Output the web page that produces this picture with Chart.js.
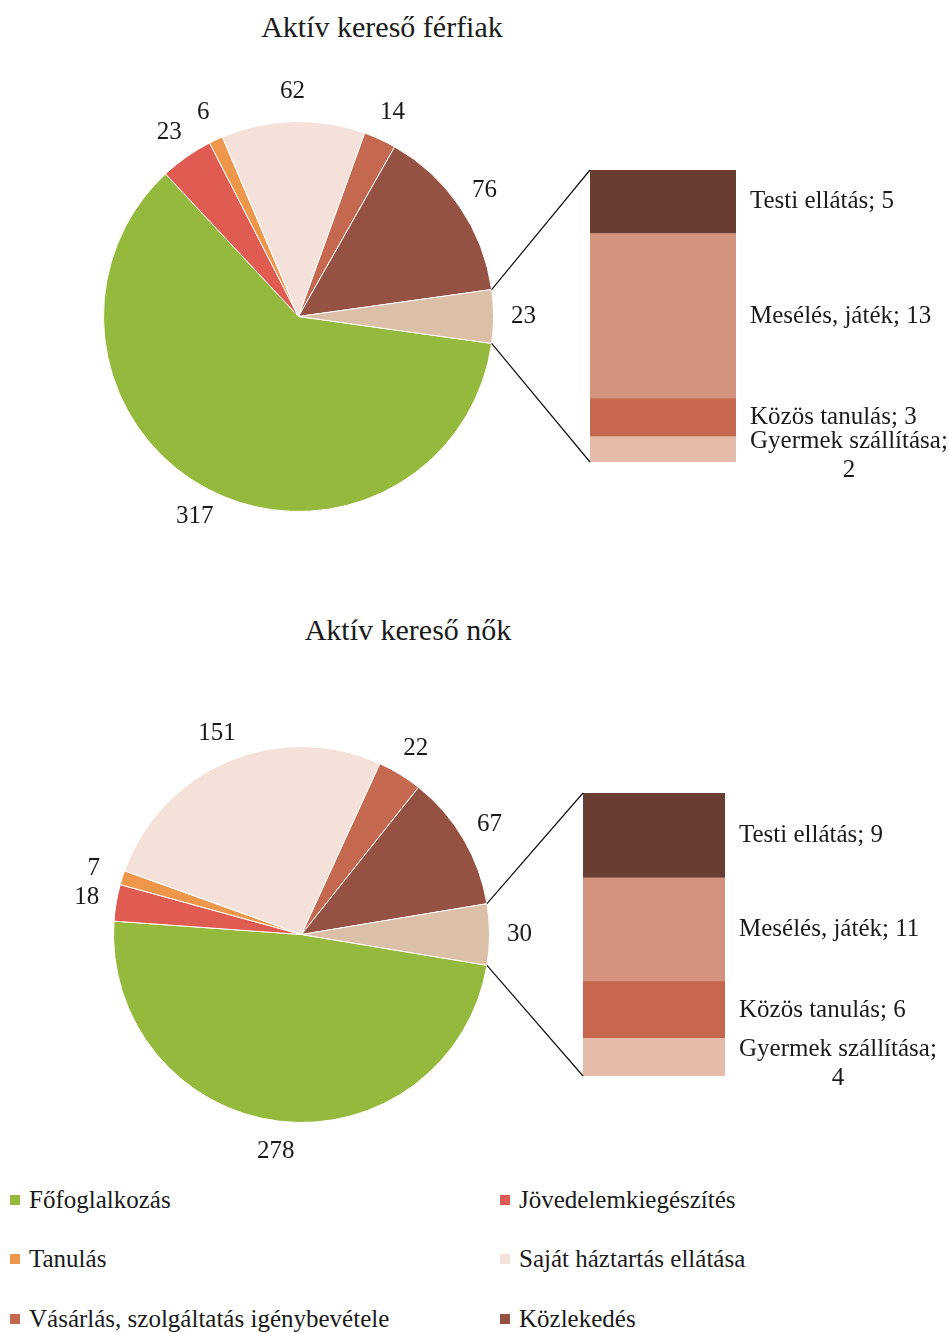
<!doctype html>
<html lang="hu">
  <head>
    <meta charset="UTF-8" />
    <title>Aktív keresők időfelhasználása</title>
    <script src="https://cdn.jsdelivr.net/npm/chart.js"></script>
    <style>
      body {
        margin: 0;
        background: #fff;
        font-family: "Liberation Serif", serif;
        color: #1a1a1a;
        width: 948px;
        height: 1333px;
        position: relative;
        overflow: hidden;
      }
      canvas {
        position: absolute;
      }
      .title {
        position: absolute;
        width: 400px;
        text-align: center;
        font-size: 30px;
        line-height: 36px;
      }
      #legend {
        position: absolute;
        left: 0;
        top: 1170px;
        width: 948px;
        display: grid;
        grid-template-columns: 490px 458px;
      }
      .item {
        height: 59.5px;
        display: flex;
        align-items: center;
        font-size: 25px;
        padding-left: 10px;
      }
      .box {
        width: 10px;
        height: 10px;
        margin-right: 9px;
      }
    </style>
  </head>

  <body>
    <div class="title" style="left: 182px; top: 9px">Aktív kereső férfiak</div>
    <canvas id="pieMen"></canvas>
    <canvas id="barMen"></canvas>

    <div class="title" style="left: 208px; top: 612px">Aktív kereső nők</div>
    <canvas id="pieWomen"></canvas>
    <canvas id="barWomen"></canvas>

    <div id="legend"></div>

    <script>
      // pie categories (last one is split into the bar)
      const categories = [
        "Főfoglalkozás",
        "Jövedelemkiegészítés",
        "Tanulás",
        "Saját háztartás ellátása",
        "Vásárlás, szolgáltatás igénybevétele",
        "Közlekedés",
        "Gyermekkel kapcsolatos tevékenység",
      ];
      const pieColors = ["#95b93c", "#e05c52", "#ee964a", "#f4e2da", "#c46850", "#955242", "#dbbfa7"];
      const menValues = [317, 23, 6, 62, 14, 76, 23];
      const womenValues = [278, 18, 7, 151, 22, 67, 30];

      // bar categories, bottom to top
      const childCategories = ["Gyermek szállítása", "Közös tanulás", "Mesélés, játék", "Testi ellátás"];
      const childColors = ["#e5bba9", "#c5684f", "#d4937e", "#6a3d33"];
      const menChild = [2, 3, 13, 5];
      const womenChild = [4, 6, 11, 9];

      const legendCount = 6;
      const FONT = "25px 'Liberation Serif'";
      const TEXT = "#1a1a1a";

      Chart.defaults.font.family = "'Liberation Serif', serif";

      const pieLabels = {
        id: "pieLabels",
        afterDatasetsDraw(chart) {
          const ctx = chart.ctx;
          const values = chart.data.datasets[0].data;
          ctx.save();
          ctx.font = FONT;
          ctx.fillStyle = TEXT;
          ctx.textAlign = "center";
          ctx.textBaseline = "middle";
          chart.getDatasetMeta(0).data.forEach((arc, i) => {
            const p = arc.getProps(["x", "y", "startAngle", "endAngle", "outerRadius"], true);
            const mid = (p.startAngle + p.endAngle) / 2;
            const r = p.outerRadius + 30;
            ctx.fillText(values[i], p.x + r * Math.cos(mid), p.y + r * Math.sin(mid));
          });
          ctx.restore();
        },
      };

      function makePie(id, values, cx, cy, R, w, h, left, top) {
        const cv = document.getElementById(id);
        cv.style.left = left + "px";
        cv.style.top = top + "px";
        cv.width = w;
        cv.height = h;
        const other = values[values.length - 1];
        const total = values.reduce((a, b) => a + b, 0);
        return new Chart(cv, {
          type: "pie",
          data: {
            labels: categories,
            datasets: [
              {
                data: values,
                backgroundColor: pieColors,
                borderColor: "#ffffff",
                borderWidth: 1,
              },
            ],
          },
          options: {
            responsive: false,
            animation: false,
            rotation: 90 + (360 * other) / total / 2,
            layout: {
              padding: {
                left: cx - R - left,
                top: cy - R - top,
                right: left + w - (cx + R + 1),
                bottom: top + h - (cy + R + 1),
              },
            },
            plugins: { legend: { display: false }, tooltip: { enabled: false } },
          },
          plugins: [pieLabels],
        });
      }

      function makeBar(id, values, pie, x0, y0, x1, y1, left, top, w, h) {
        const cv = document.getElementById(id);
        cv.style.left = left + "px";
        cv.style.top = top + "px";
        cv.width = w;
        cv.height = h;
        const total = values.reduce((a, b) => a + b, 0);

        const barExtras = {
          id: "barExtras",
          afterDraw(chart) {
            const ctx = chart.ctx;
            const area = chart.chartArea;
            ctx.save();

            // connector lines from the split slice to the bar
            const pieMeta = pie.getDatasetMeta(0);
            const arc = pieMeta.data[pieMeta.data.length - 1];
            const p = arc.getProps(["x", "y", "startAngle", "endAngle", "outerRadius"], true);
            const dx = pie.canvas.offsetLeft - cv.offsetLeft;
            const dy = pie.canvas.offsetTop - cv.offsetTop;
            ctx.strokeStyle = "#111";
            ctx.lineWidth = 1.2;
            ctx.beginPath();
            ctx.moveTo(p.x + dx + p.outerRadius * Math.cos(p.startAngle), p.y + dy + p.outerRadius * Math.sin(p.startAngle));
            ctx.lineTo(area.left, area.top);
            ctx.moveTo(p.x + dx + p.outerRadius * Math.cos(p.endAngle), p.y + dy + p.outerRadius * Math.sin(p.endAngle));
            ctx.lineTo(area.left, area.bottom);
            ctx.stroke();

            // segment labels
            ctx.font = FONT;
            ctx.fillStyle = TEXT;
            ctx.textBaseline = "middle";
            chart.data.datasets.forEach((ds, i) => {
              const el = chart.getDatasetMeta(i).data[0];
              const yc = (el.y + el.base) / 2;
              const x = area.right + 14;
              const text = ds.label + "; " + ds.data[0];
              const tw = ctx.measureText(text).width;
              if (x + tw > chart.width - 2) {
                const cut = text.lastIndexOf(" ");
                const l1 = text.slice(0, cut);
                const l2 = text.slice(cut + 1);
                const w1 = ctx.measureText(l1).width;
                ctx.textAlign = "left";
                ctx.fillText(l1, x, yc - 8);
                ctx.textAlign = "center";
                ctx.fillText(l2, x + w1 / 2, yc + 21);
              } else {
                ctx.textAlign = "left";
                ctx.fillText(text, x, yc);
              }
            });
            ctx.restore();
          },
        };

        return new Chart(cv, {
          type: "bar",
          data: {
            labels: [""],
            datasets: childCategories.map((name, i) => ({
              label: name,
              data: [values[i]],
              backgroundColor: childColors[i],
              borderWidth: 0,
              barPercentage: 1,
              categoryPercentage: 1,
            })),
          },
          options: {
            responsive: false,
            animation: false,
            layout: {
              padding: {
                left: x0 - left,
                top: y0 - top,
                right: left + w - x1,
                bottom: top + h - y1,
              },
            },
            scales: {
              x: { stacked: true, display: false },
              y: { stacked: true, display: false, min: 0, max: total },
            },
            plugins: { legend: { display: false }, tooltip: { enabled: false } },
          },
          plugins: [barExtras],
        });
      }

      const pieMen = makePie("pieMen", menValues, 298, 316, 195, 580, 540, 0, 50);
      makeBar("barMen", menChild, pieMen, 590, 170, 736, 462, 470, 150, 478, 350);

      const pieWomen = makePie("pieWomen", womenValues, 301, 934, 188, 580, 540, 0, 620);
      makeBar("barWomen", womenChild, pieWomen, 583, 793, 725, 1076, 470, 770, 478, 340);

      // legend
      const legend = document.getElementById("legend");
      categories.slice(0, legendCount).forEach((name, i) => {
        const item = document.createElement("div");
        item.className = "item";
        item.innerHTML = '<span class="box" style="background:' + pieColors[i] + '"></span>' + name;
        legend.appendChild(item);
      });
    </script>
  </body>
</html>
